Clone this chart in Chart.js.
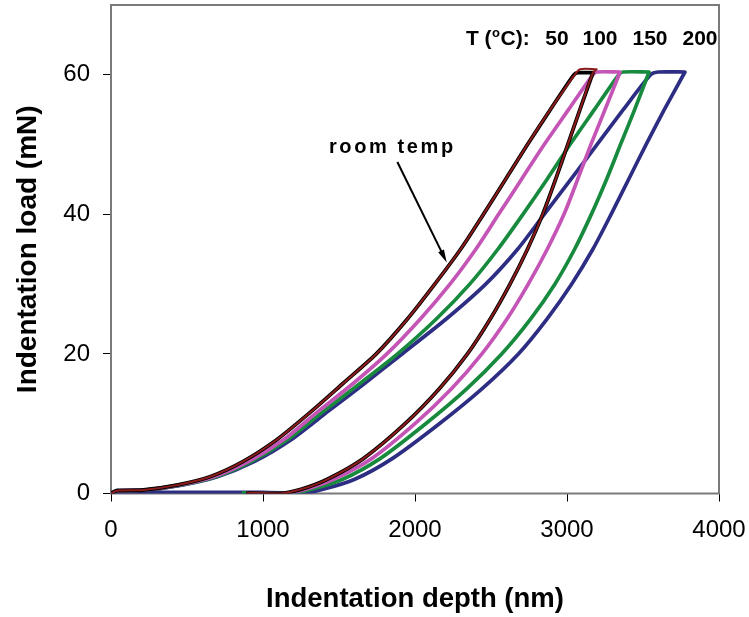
<!DOCTYPE html>
<html>
<head>
<meta charset="utf-8">
<script src="https://cdn.jsdelivr.net/npm/chart.js@4/dist/chart.umd.min.js"></script>
<style>
  html, body { margin: 0; padding: 0; background: #ffffff; }
  #wrap { width: 749px; height: 617px; }
</style>
</head>
<body>
<div id="wrap"><canvas id="c" width="749" height="617"></canvas></div>
<script>
// Load–depth curves from nanoindentation runs, [depth nm, load mN]

const roomLoading = [[0,0],[40,0.4],[213,0.5],[432,1.2],[651,2.4],[870,4.6],[1090,7.7],[1320,11.8],[1528,15.8],[1745,20],[1950,25],[2130,30],[2300,35],[2450,40],[2595,45],[2740,50],[2890,55],[3045,60],[3070,60.3],[3171,60.3]];
const roomUnloading = [[3171,60.3],[3085,55],[3005,50],[2925,45],[2840,40],[2740,35],[2625,30],[2495,25],[2345,20],[2160,15],[1935,10],[1660,5],[1420,2],[1250,0.6],[1110,0],[900,0.1]];

const t50Loading = [[0,0],[40,0.4],[213,0.5],[432,1.2],[651,2.4],[870,4.6],[1090,7.7],[1320,11.8],[1528,15.8],[1745,20],[1950,25],[2130,30],[2300,35],[2450,40],[2595,45],[2740,50],[2890,55],[3050,60],[3086,60.8],[3195,60.8]];
const t50Unloading = [[3195,60.8],[3171,60.3],[3085,55],[3005,50],[2925,45],[2840,40],[2740,35],[2625,30],[2495,25],[2345,20],[2160,15],[1935,10],[1660,5],[1420,2],[1250,0.6],[1110,0],[900,0.1]];

const t100Loading = [[0,0],[40,0.4],[220,0.5],[445,1.2],[675,2.4],[905,4.6],[1135,7.7],[1365,11.8],[1595,15.8],[1815,20],[2035,25],[2230,30],[2400,35],[2550,40],[2700,45],[2850,50],[3010,55],[3170,60],[3197,60.4],[3349,60.4]];
const t100Unloading = [[3349,60.4],[3250,55],[3157,50],[3070,45],[2980,40],[2870,35],[2745,30],[2605,25],[2440,20],[2240,15],[2000,10],[1715,5],[1460,2],[1280,0.6],[1145,0],[900,0.1]];

const t150Loading = [[0,0],[40,0.4],[225,0.5],[455,1.2],[690,2.4],[925,4.6],[1160,7.7],[1400,11.8],[1640,15.8],[1885,20],[2140,25],[2360,30],[2545,35],[2710,40],[2868,45],[3020,50],[3180,55],[3340,60],[3369,60.4],[3540,60.4]];
const t150Unloading = [[3540,60.4],[3445,55],[3352,50],[3260,45],[3160,40],[3050,35],[2920,30],[2760,25],[2570,20],[2340,15],[2070,10],[1770,5],[1520,2],[1320,0.6],[1180,0],[870,0.1]];

const t200Loading = [[0,0],[40,0.4],[230,0.5],[465,1.2],[700,2.4],[945,4.6],[1185,7.7],[1430,11.8],[1670,15.8],[1915,20],[2205,25],[2465,30],[2675,35],[2850,40],[3025,45],[3197,50],[3370,55],[3550,60],[3599,60.4],[3776,60.4]];
const t200Unloading = [[3776,60.4],[3640,55],[3520,50],[3405,45],[3290,40],[3170,35],[3030,30],[2868,25],[2680,20],[2440,15],[2160,10],[1850,5],[1600,2],[1395,0.6],[1250,0],[1000,0.15],[0,0.15]];

const depthTicks = [0, 1000, 2000, 3000, 4000];
const loadTicks = [0, 20, 40, 60];
const tempLabels = ['50', '100', '150', '200'];

const toPoints = (...parts) => parts.flat().map(([x, y]) => ({ x, y }));

const FONT = '"Liberation Sans", Arial, Helvetica, sans-serif';

function series(label, loading, unloading, color, width, order) {
  return {
    label,
    data: toPoints(loading, unloading),
    borderColor: color,
    backgroundColor: color,
    borderWidth: width,
    showLine: true,
    pointRadius: 0,
    tension: 0.25,
    fill: false,
    borderJoinStyle: 'round',
    borderCapStyle: 'round',
    order
  };
}

// Keep the plot box fixed: no extra room reserved for overhanging tick labels
function pinScale(size, key) {
  return s => {
    s[key] = size;
    s.paddingTop = 0; s.paddingBottom = 0; s.paddingLeft = 0; s.paddingRight = 0;
  };
}

// Frame around the plot area, drawn under the curves
const frame = {
  id: 'frame',
  beforeDatasetsDraw(chart) {
    const { ctx, chartArea: a } = chart;
    ctx.save();
    ctx.strokeStyle = '#7a7a7a';
    ctx.lineWidth = 2;
    ctx.strokeRect(a.left, a.top, a.right - a.left, a.bottom - a.top);
    ctx.restore();
  }
};

// Temperature header and the "room temp" call-out
const notes = {
  id: 'notes',
  afterDatasetsDraw(chart) {
    const { ctx, scales: { x, y } } = chart;
    ctx.save();
    ctx.fillStyle = '#000';
    ctx.textBaseline = 'alphabetic';

    // header: T (ºC):  50  100  150  200
    const hy = y.getPixelForValue(65.4) + 8;
    ctx.font = 'bold 21px ' + FONT;
    ctx.textAlign = 'left';
    let hx = x.getPixelForValue(2335);
    ctx.fillText('T (', hx, hy);
    hx += ctx.measureText('T (').width;
    ctx.font = 'bold 13px ' + FONT;
    ctx.fillText('o', hx + 0.5, hy - 8);
    hx += ctx.measureText('o').width + 1;
    ctx.font = 'bold 21px ' + FONT;
    ctx.fillText('C):', hx, hy);
    ctx.textAlign = 'center';
    const centers = [2934, 3217, 3546, 3875];
    tempLabels.forEach((t, i) => ctx.fillText(t, x.getPixelForValue(centers[i]), hy));

    // room temp label with arrow
    ctx.textAlign = 'left';
    ctx.font = 'bold 20px ' + FONT;
    ctx.letterSpacing = '2.6px';
    ctx.fillText('room temp', x.getPixelForValue(1434), y.getPixelForValue(48.8));
    ctx.letterSpacing = '0px';

    const x0 = x.getPixelForValue(1884), y0 = y.getPixelForValue(47.5);
    const x1 = x.getPixelForValue(2209), y1 = y.getPixelForValue(33.1);
    const ang = Math.atan2(y1 - y0, x1 - x0);
    const head = 13, half = 3.2;
    ctx.strokeStyle = '#000';
    ctx.lineWidth = 2;
    ctx.beginPath();
    ctx.moveTo(x0, y0);
    ctx.lineTo(x1 - Math.cos(ang) * head * 0.8, y1 - Math.sin(ang) * head * 0.8);
    ctx.stroke();
    ctx.beginPath();
    ctx.moveTo(x1, y1);
    ctx.lineTo(x1 - Math.cos(ang) * head - Math.sin(ang) * half, y1 - Math.sin(ang) * head + Math.cos(ang) * half);
    ctx.lineTo(x1 - Math.cos(ang) * head + Math.sin(ang) * half, y1 - Math.sin(ang) * head - Math.cos(ang) * half);
    ctx.closePath();
    ctx.fill();
    ctx.restore();
  }
};

new Chart(document.getElementById('c'), {
  type: 'scatter',
  data: {
    datasets: [
      series('200 °C', t200Loading, t200Unloading, '#2d2d84', 3.7, 5),
      series('150 °C', t150Loading, t150Unloading, '#178a3e', 3.7, 4),
      series('100 °C', t100Loading, t100Unloading, '#c455b6', 3.7, 3),
      series('room temp', roomLoading, roomUnloading, '#000000', 3.8, 2),
      series('50 °C', t50Loading, t50Unloading, '#8c1c1c', 2, 1)
    ]
  },
  options: {
    responsive: false,
    animation: false,
    devicePixelRatio: 1,
    layout: { padding: { top: 5, right: 30, left: 0, bottom: 0 } },
    plugins: {
      legend: { display: false },
      tooltip: { enabled: false }
    },
    scales: {
      x: {
        type: 'linear',
        min: 0,
        max: 4000,
        afterFit: pinScale(123.5, 'height'),
        afterBuildTicks: s => { s.ticks = depthTicks.map(v => ({ value: v })); },
        border: { display: false },
        grid: { drawOnChartArea: false, drawTicks: true, tickLength: 8, color: '#000', lineWidth: 1 },
        ticks: { color: '#000', padding: 14, maxRotation: 0, autoSkip: false, callback: v => String(v), font: { family: FONT, size: 24 } },
        title: { display: true, text: 'Indentation depth (nm)', color: '#000', padding: { top: 0, bottom: 1 }, font: { family: FONT, size: 27.5, weight: 'bold' } }
      },
      y: {
        type: 'linear',
        min: 0,
        max: 70,
        afterFit: pinScale(111, 'width'),
        afterBuildTicks: s => { s.ticks = loadTicks.map(v => ({ value: v })); },
        border: { display: false },
        grid: { drawOnChartArea: false, drawTicks: true, tickLength: 8, color: '#000', lineWidth: 1 },
        ticks: { color: '#000', padding: 13, autoSkip: false, callback: v => String(v), font: { family: FONT, size: 24 } },
        title: { display: true, text: 'Indentation load (mN)', color: '#000', padding: { top: 11, bottom: 0 }, font: { family: FONT, size: 28, weight: 'bold' } }
      }
    }
  },
  plugins: [frame, notes]
});
</script>
</body>
</html>
